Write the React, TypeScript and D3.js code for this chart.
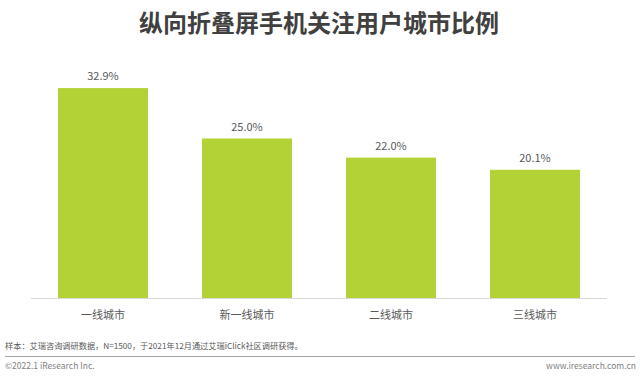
import React from "react";
import * as d3 from "d3";

const categories = ["一线城市", "新一线城市", "二线城市", "三线城市"];
const values = [32.9, 25.0, 22.0, 20.1];

const W = 640;
const H = 377;
const FONT = "'Microsoft YaHei', 'Noto Sans CJK SC', 'Noto Sans', sans-serif";

export default function App() {
  const x = d3.scaleBand<string>().domain(categories).range([31, 607]).paddingInner(0.375).paddingOuter(0.1875);
  const y = d3.scaleLinear().domain([0, 35]).range([298, 74.7]);
  return (
    <svg width={W} height={H} style={{ position: "absolute", left: 0, top: 0, background: "#fff" }} fontFamily={FONT}>
      <text x={319} y={32} textAnchor="middle" fontSize={24} fontWeight="bold" fill="#404040">
        纵向折叠屏手机关注用户城市比例
      </text>
      {categories.map((c, i) => (
        <g key={c}>
          <rect x={x(c)} y={y(values[i])} width={x.bandwidth()} height={y(0) - y(values[i])} fill="#b2d235" />
          <text x={(x(c) as number) + x.bandwidth() / 2} y={y(values[i]) - 8} textAnchor="middle" fontSize={11} fill="#595959">
            {values[i].toFixed(1)}%
          </text>
          <text x={(x(c) as number) + x.bandwidth() / 2} y={319} textAnchor="middle" fontSize={11} fill="#595959">
            {c}
          </text>
        </g>
      ))}
      <line x1={31} x2={607} y1={298.5} y2={298.5} stroke="#d9d9d9" strokeWidth={1} />
      <text x={5} y={349} fontSize={8.2} fill="#595959">
        样本：艾瑞咨询调研数据，N=1500，于2021年12月通过艾瑞iClick社区调研获得。
      </text>
      <line x1={5} x2={635} y1={356.5} y2={356.5} stroke="#a6a6a6" strokeWidth={1} />
      <text x={5} y={369} fontSize={8.5} fill="#7f7f7f">
        ©2022.1 iResearch Inc.
      </text>
      <text x={636} y={369} textAnchor="end" fontSize={8.5} fill="#7f7f7f">
        www.iresearch.com.cn
      </text>
    </svg>
  );
}
